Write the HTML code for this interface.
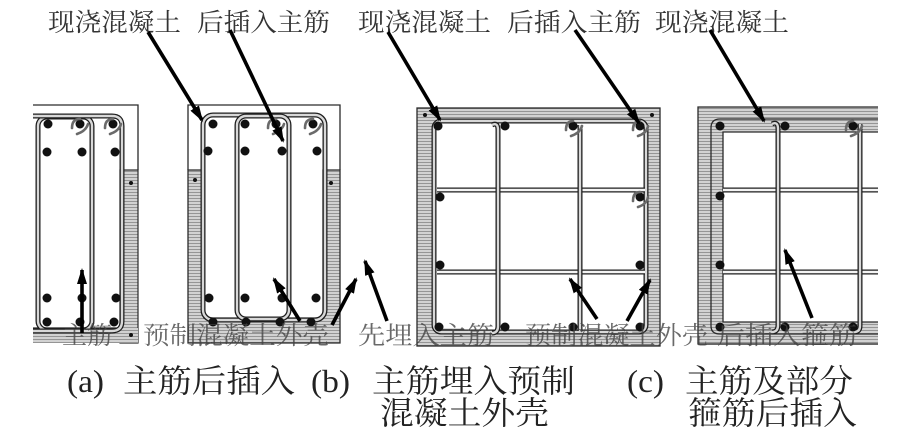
<!DOCTYPE html>
<html><head><meta charset="utf-8"><style>
html,body{margin:0;padding:0;background:#fff;}
svg{display:block;}
.o{fill:none;stroke:#1e1e1e;stroke-width:5;}
.i{fill:none;stroke:#d8d8d8;stroke-width:2.4;}
.iw{fill:none;stroke:#f4f4f4;stroke-width:2.4;}
.ln{fill:none;stroke:#2a2a2a;stroke-width:1.3;}
.ar{fill:none;stroke:#000;stroke-width:3.6;marker-end:url(#ah);}
.hk{fill:none;stroke:#6a6a6a;stroke-width:2.6;stroke-linecap:round;}
.cj{font-family:"Noto Serif CJK SC","Liberation Serif",serif;font-weight:400;}
.lt{font-family:"Liberation Serif","Noto Serif CJK SC",serif;font-weight:400;}
</style></head><body>
<svg width="918" height="439" viewBox="0 0 918 439" xmlns="http://www.w3.org/2000/svg">
<defs>
<pattern id="h" width="6" height="3" patternUnits="userSpaceOnUse"><rect width="6" height="3" fill="#d2d2d2"/><rect width="6" height="1" fill="#959595"/></pattern>
<marker id="ah" viewBox="0 0 16 10" refX="14" refY="5" markerWidth="16" markerHeight="10" markerUnits="userSpaceOnUse" orient="auto"><path d="M0,0 L16,5 L0,10 z" fill="#000"/></marker>
</defs>

<!-- ================= (a) ================= -->
<polyline class="ln" points="33,105 138,105 138,170"/>
<rect x="120" y="170" width="18" height="173" fill="url(#h)" stroke="#2a2a2a" stroke-width="1.2"/>
<rect x="33" y="328" width="105" height="15" fill="url(#h)"/>
<line class="ln" x1="33" y1="328" x2="120" y2="328"/>
<circle cx="131" cy="183" r="2" fill="#111"/>
<circle cx="131" cy="335" r="2" fill="#111"/>
<rect class="o" x="38" y="117" width="54" height="213" rx="9"/>
<rect class="i" x="38" y="117" width="54" height="213" rx="9"/>
<path class="o" d="M33,116 H112 Q122,116 122,126 V321 Q122,331 112,331 H33"/>
<path class="i" d="M33,116 H112 Q122,116 122,126 V321 Q122,331 112,331 H33"/>
<g fill="#111">
<circle cx="48" cy="124" r="4.5"/><circle cx="80" cy="124" r="4.5"/><circle cx="113" cy="124" r="4.5"/>
<circle cx="47" cy="152" r="4.5"/><circle cx="82" cy="152" r="4.5"/><circle cx="115" cy="152" r="4.5"/>
<circle cx="47" cy="298" r="4.5"/><circle cx="82" cy="298" r="4.5"/><circle cx="116" cy="298" r="4.5"/>
<circle cx="47" cy="322" r="4.5"/><circle cx="80" cy="322" r="4.5"/><circle cx="114" cy="322" r="4.5"/>
</g>
<path class="hk" d="M72,128 Q72,119 80,119 M77,134 Q86,131 88,124"/>
<path class="hk" d="M105,128 Q105,119 113,119 M110,134 Q119,131 121,124"/>

<!-- ================= (b) ================= -->
<polyline class="ln" points="188,170 188,105 340,105 340,170"/>
<rect x="188" y="170" width="16" height="173" fill="url(#h)"/>
<rect x="323" y="170" width="17" height="173" fill="url(#h)"/>
<rect x="188" y="318" width="152" height="25" fill="url(#h)"/>
<path class="ln" d="M188,170 V343 H340 V170 H323 V318 H204 V170 Z"/>
<circle cx="195" cy="180" r="2" fill="#111"/>
<circle cx="331" cy="183" r="2" fill="#111"/>
<rect class="o" x="203" y="115" width="122" height="205" rx="10"/>
<rect class="i" x="203" y="115" width="122" height="205" rx="10"/>
<rect class="o" x="237" y="116" width="52" height="203" rx="9"/>
<rect class="i" x="237" y="116" width="52" height="203" rx="9"/>
<g fill="#111">
<circle cx="213" cy="124" r="4.5"/><circle cx="245" cy="124" r="4.5"/><circle cx="276" cy="124" r="4.5"/><circle cx="313" cy="124" r="4.5"/>
<circle cx="208" cy="151" r="4.5"/><circle cx="245" cy="151" r="4.5"/><circle cx="282" cy="151" r="4.5"/><circle cx="317" cy="151" r="4.5"/>
<circle cx="209" cy="298" r="4.5"/><circle cx="245" cy="298" r="4.5"/><circle cx="282" cy="298" r="4.5"/><circle cx="316" cy="298" r="4.5"/>
<circle cx="213" cy="322" r="4.5"/><circle cx="246" cy="322" r="4.5"/><circle cx="280" cy="322" r="4.5"/><circle cx="311" cy="322" r="4.5"/>
</g>
<path class="hk" d="M268,128 Q268,119 276,119 M273,134 Q282,131 284,124"/>
<path class="hk" d="M305,128 Q305,119 313,119 M310,134 Q319,131 321,124"/>

<!-- ================= (c) ================= -->
<rect x="417" y="108" width="243" height="238" fill="url(#h)" stroke="#2a2a2a" stroke-width="1.3"/>
<rect x="434" y="121" width="212" height="211" fill="#fff"/>
<circle cx="425" cy="115" r="2" fill="#111"/>
<circle cx="652" cy="115" r="2" fill="#111"/>
<rect class="o" x="434" y="121" width="212" height="211" rx="7"/>
<rect class="i" x="434" y="121" width="212" height="211" rx="7"/>
<path class="o" d="M437,190 H645 M437,272 H645"/>
<path class="iw" d="M437,190 H645 M437,272 H645"/>
<path class="o" d="M492,125 Q498,122 498,130 V326 Q498,333 492,333 M580,125 V331"/>
<path class="i" d="M492,125 Q498,122 498,130 V326 Q498,333 492,333 M580,125 V331"/>
<g fill="#111">
<circle cx="438" cy="126" r="4.5"/><circle cx="505" cy="126" r="4.5"/><circle cx="573" cy="126" r="4.5"/><circle cx="640" cy="126" r="4.5"/>
<circle cx="440" cy="197" r="4.5"/><circle cx="640" cy="197" r="4.5"/>
<circle cx="440" cy="265" r="4.5"/><circle cx="640" cy="265" r="4.5"/>
<circle cx="439" cy="327" r="4.5"/><circle cx="505" cy="327" r="4.5"/><circle cx="573" cy="327" r="4.5"/><circle cx="640" cy="327" r="4.5"/>
</g>
<path class="hk" d="M566,130 Q566,121 573,121 M571,136 Q580,133 582,126"/>
<path class="hk" d="M633,130 Q633,121 640,121 M638,136 Q647,133 648,126"/>
<path class="hk" d="M633,201 Q633,192 640,192 M638,207 Q647,204 648,197"/>

<!-- ================= (d) ================= -->
<rect x="698" y="107" width="180" height="238" fill="url(#h)"/>
<rect x="723" y="132" width="155" height="190" fill="#fff"/>
<path class="ln" d="M878,107 H698 V344 H878"/>
<path class="ln" d="M878,119 H720 Q711,119 711,128 V326 Q711,334 720,334 H878"/>
<path class="ln" d="M878,132 H723 V322 H878"/>
<path class="o" d="M723,190 H878 M723,272 H878"/>
<path class="iw" d="M723,190 H878 M723,272 H878"/>
<path class="o" d="M772,124 Q778,121 778,129 V325 Q778,332 772,332 M860,124 V326 Q860,332 854,332"/>
<path class="i" d="M772,124 Q778,121 778,129 V325 Q778,332 772,332 M860,124 V326 Q860,332 854,332"/>
<g fill="#111">
<circle cx="720" cy="126" r="4.5"/><circle cx="785" cy="126" r="4.5"/><circle cx="853" cy="126" r="4.5"/>
<circle cx="720" cy="196" r="4.5"/><circle cx="720" cy="265" r="4.5"/>
<circle cx="720" cy="327" r="4.5"/><circle cx="785" cy="327" r="4.5"/><circle cx="853" cy="327" r="4.5"/>
</g>
<path class="hk" d="M846,130 Q846,121 853,121 M851,136 Q860,133 862,126"/>

<!-- ================= labels ================= -->
<g class="cj" font-size="25" fill="#333">
<text x="48" y="31" textLength="133" lengthAdjust="spacingAndGlyphs">现浇混凝土</text>
<text x="197" y="31" textLength="133" lengthAdjust="spacingAndGlyphs">后插入主筋</text>
<text x="358" y="31" textLength="133" lengthAdjust="spacingAndGlyphs">现浇混凝土</text>
<text x="507" y="31" textLength="134" lengthAdjust="spacingAndGlyphs">后插入主筋</text>
<text x="655" y="31" textLength="134" lengthAdjust="spacingAndGlyphs">现浇混凝土</text>
</g>
<g class="cj" font-size="25" fill="#444" opacity="0.8">
<text x="62" y="344" textLength="50" lengthAdjust="spacingAndGlyphs">主筋</text>
<text x="143" y="344" textLength="186" lengthAdjust="spacingAndGlyphs">预制混凝土外壳</text>
<text x="358" y="344" textLength="136" lengthAdjust="spacingAndGlyphs">先埋入主筋</text>
<text x="525" y="344" textLength="183" lengthAdjust="spacingAndGlyphs">预制混凝土外壳</text>
<text x="717" y="344" textLength="140" lengthAdjust="spacingAndGlyphs">后插入箍筋</text>
</g>

<!-- ================= arrows ================= -->
<line class="ar" x1="82" y1="333" x2="82" y2="270"/>
<line class="ar" x1="148" y1="32" x2="202" y2="120"/>
<line class="ar" x1="230" y1="30" x2="283" y2="141"/>
<line class="ar" x1="300" y1="321" x2="274" y2="279"/>
<line class="ar" x1="332" y1="325" x2="356" y2="279"/>
<line class="ar" x1="387" y1="321" x2="365" y2="261"/>
<line class="ar" x1="388" y1="32" x2="440" y2="120"/>
<line class="ar" x1="575" y1="30" x2="639" y2="123"/>
<line class="ar" x1="597" y1="319" x2="570" y2="279"/>
<line class="ar" x1="627" y1="321" x2="650" y2="280"/>
<line class="ar" x1="710" y1="30" x2="764" y2="121"/>
<line class="ar" x1="812" y1="318" x2="785" y2="250"/>

<!-- ================= captions ================= -->
<g font-size="32" fill="#222">
<text class="lt" x="67" y="392" textLength="37" lengthAdjust="spacingAndGlyphs">(a)</text>
<text class="cj" x="123" y="392" textLength="172" lengthAdjust="spacingAndGlyphs">主筋后插入</text>
<text class="lt" x="311" y="392" textLength="39" lengthAdjust="spacingAndGlyphs">(b)</text>
<text class="cj" x="372" y="392" textLength="203" lengthAdjust="spacingAndGlyphs">主筋埋入预制</text>
<text class="cj" x="380" y="424" textLength="169" lengthAdjust="spacingAndGlyphs">混凝土外壳</text>
<text class="lt" x="627" y="392" textLength="37" lengthAdjust="spacingAndGlyphs">(c)</text>
<text class="cj" x="685" y="392" textLength="168" lengthAdjust="spacingAndGlyphs">主筋及部分</text>
<text class="cj" x="688" y="424" textLength="169" lengthAdjust="spacingAndGlyphs">箍筋后插入</text>
</g>
</svg>
</body></html>
